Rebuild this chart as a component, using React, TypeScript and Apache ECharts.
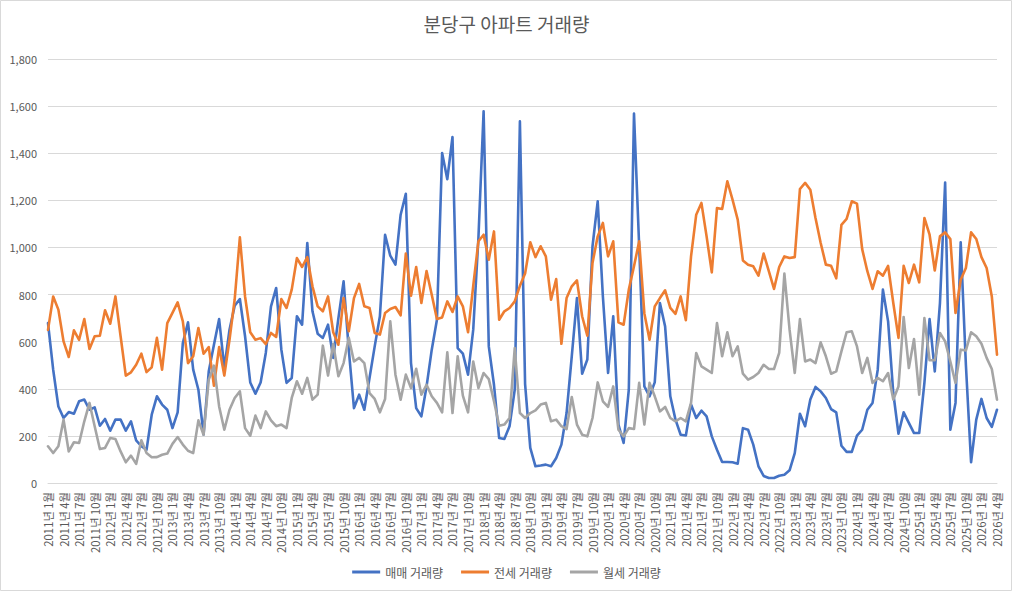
import React, { useEffect, useRef } from "react";
import * as echarts from "echarts";

// 2011년 1월 ~ 2026년 4월 (monthly)
const startYear = 2011;
const monthCount = 184;
const categories: string[] = [];
for (let i = 0; i < monthCount; i++) {
  const y = startYear + Math.floor(i / 12);
  const m = (i % 12) + 1;
  categories.push(`${y}년 ${m}월`);
}

const seriesNames = ["매매 거래량", "전세 거래량", "월세 거래량"];

const saleValues = [
  679, 481, 325, 276, 301, 294, 347, 354, 311, 321, 243, 272, 222, 269, 269, 222, 262, 181, 156, 141, 290, 368, 333,
  311, 233, 300, 594, 682, 481, 396, 205, 474, 587, 696, 488, 651, 753, 781, 623, 427, 379, 427, 552, 750, 828, 566,
  425, 446, 708, 672, 1019, 729, 634, 616, 672, 531, 700, 856, 566, 318, 375, 311, 446, 580, 708, 1054, 965, 927, 1139,
  1228, 509, 318, 283, 410, 566, 693, 1401, 1290, 1469, 573, 549, 460, 651, 1040, 1578, 580, 417, 191, 187, 241, 396, 1535,
  420, 149, 71, 74, 78, 71, 106, 163, 297, 538, 785, 464, 524, 1005, 1196, 792, 467, 708, 248, 170, 396, 1568, 1005,
  410, 368, 427, 764, 665, 368, 269, 205, 202, 333, 276, 307, 283, 198, 141, 89, 89, 88, 82, 233, 226, 163, 71,
  30, 21, 21, 31, 35, 54, 127, 294, 241, 354, 408, 389, 361, 314, 300, 158, 132, 132, 201, 226, 311, 340, 481,
  821, 686, 382, 209, 300, 255, 212, 212, 425, 696, 474, 764, 1276, 226, 340, 1022, 502, 88, 269, 357, 276, 238, 311,
];

const jeonseValues = [
  650, 792, 736, 601, 535, 648, 608, 696, 569, 623, 625, 733, 676, 792, 623, 456, 470, 502, 549, 471, 491, 616, 481,
  679, 722, 767, 686, 509, 538, 658, 549, 577, 413, 577, 456, 608, 780, 1043, 792, 640, 608, 615, 590, 637, 620, 781,
  743, 821, 955, 917, 959, 835, 750, 729, 792, 640, 587, 785, 644, 785, 845, 750, 743, 637, 630, 722, 739, 747, 712,
  974, 795, 917, 764, 900, 799, 696, 703, 771, 726, 792, 750, 640, 837, 1026, 1054, 948, 1068, 693, 729, 743, 771, 837,
  889, 1022, 959, 1005, 962, 778, 866, 591, 785, 835, 860, 708, 625, 934, 1047, 1104, 962, 1026, 682, 672, 821, 920, 1026,
  720, 608, 750, 785, 818, 743, 718, 792, 691, 962, 1139, 1189, 1047, 894, 1167, 1163, 1281, 1203, 1118, 945, 927, 920, 880,
  974, 899, 824, 917, 962, 955, 959, 1248, 1274, 1245, 1125, 1019, 927, 922, 869, 1096, 1121, 1196, 1186, 993, 899, 824, 899,
  880, 922, 764, 616, 922, 849, 927, 852, 1125, 1054, 902, 1047, 1064, 1036, 722, 863, 913, 1064, 1036, 959, 913, 792, 545,
];

const wolseValues = [
  156, 127, 156, 269, 134, 173, 170, 262, 340, 241, 144, 149, 191, 187, 134, 88, 116, 81, 181, 127, 109, 110, 120,
  125, 166, 195, 163, 137, 127, 266, 205, 439, 498, 325, 226, 311, 361, 389, 233, 201, 286, 233, 304, 266, 241, 248,
  233, 361, 432, 379, 446, 354, 375, 583, 456, 591, 453, 509, 616, 516, 531, 509, 382, 357, 300, 357, 686, 460, 354,
  460, 403, 485, 375, 417, 368, 340, 300, 555, 297, 538, 371, 300, 516, 403, 467, 441, 347, 243, 248, 276, 573, 297,
  276, 297, 308, 333, 340, 262, 269, 241, 229, 365, 248, 205, 198, 276, 427, 347, 323, 410, 226, 198, 233, 229, 425,
  248, 425, 368, 304, 323, 276, 262, 276, 262, 340, 552, 495, 481, 467, 679, 538, 640, 538, 580, 464, 439, 450, 467,
  502, 484, 484, 552, 889, 651, 467, 696, 516, 524, 509, 597, 538, 464, 474, 559, 640, 644, 580, 467, 531, 425, 446,
  432, 467, 354, 410, 705, 488, 611, 375, 700, 521, 521, 637, 601, 516, 425, 566, 563, 640, 623, 591, 531, 484, 354,
];

const colors = ["#4472C4", "#ED7D31", "#A5A5A5"];
const FONT = '"Noto Sans CJK KR", "Malgun Gothic", sans-serif';

export default function App() {
  const ref = useRef<HTMLDivElement>(null);
  useEffect(() => {
    if (!ref.current) return;
    const chart = echarts.init(ref.current, undefined, { renderer: "svg" });
    const values = [saleValues, jeonseValues, wolseValues];
    chart.setOption({
      animation: false,
      backgroundColor: "#ffffff",
      textStyle: { fontFamily: FONT },
      title: {
        text: "분당구 아파트 거래량",
        left: "center",
        top: 9,
        textStyle: { fontFamily: FONT, fontSize: 19, fontWeight: "normal", color: "#595959" },
      },
      graphic: [
        {
          type: "rect",
          shape: { x: 0.5, y: 0.5, width: 1011, height: 590 },
          style: { fill: "none", stroke: "#D9D9D9", lineWidth: 1 },
          silent: true,
          z: -1,
        },
      ],
      legend: {
        bottom: 11,
        left: "center",
        itemWidth: 28,
        itemHeight: 3,
        itemGap: 18,
        icon: "rect",
        data: seriesNames,
        textStyle: { fontFamily: FONT, fontSize: 12, color: "#595959" },
      },
      grid: { left: 48, right: 16, top: 59, bottom: 111, containLabel: false },
      xAxis: {
        type: "category",
        data: categories,
        boundaryGap: false,
        axisLine: { lineStyle: { color: "#D9D9D9" } },
        axisTick: { show: false },
        axisLabel: {
          interval: 2,
          rotate: 90,
          margin: 9,
          fontSize: 11.3,
          color: "#595959",
          fontFamily: FONT,
        },
      },
      yAxis: {
        type: "value",
        min: 0,
        max: 1800,
        interval: 200,
        axisLine: { show: false },
        axisTick: { show: false },
        splitLine: { lineStyle: { color: "#D9D9D9" } },
        axisLabel: {
          margin: 11,
          fontSize: 11,
          color: "#595959",
          fontFamily: FONT,
          formatter: (v: number) => v.toLocaleString("en-US"),
        },
      },
      series: seriesNames.map((name, k) => ({
        name,
        type: "line",
        data: values[k],
        showSymbol: false,
        symbol: "none",
        color: colors[k],
        lineStyle: { width: 2.6, color: colors[k], join: "round", cap: "round" },
      })),
    });
    return () => chart.dispose();
  }, []);
  return (
    <div
      ref={ref}
      style={{ position: "absolute", left: 0, top: 0, width: 1013, height: 594 }}
    />
  );
}
